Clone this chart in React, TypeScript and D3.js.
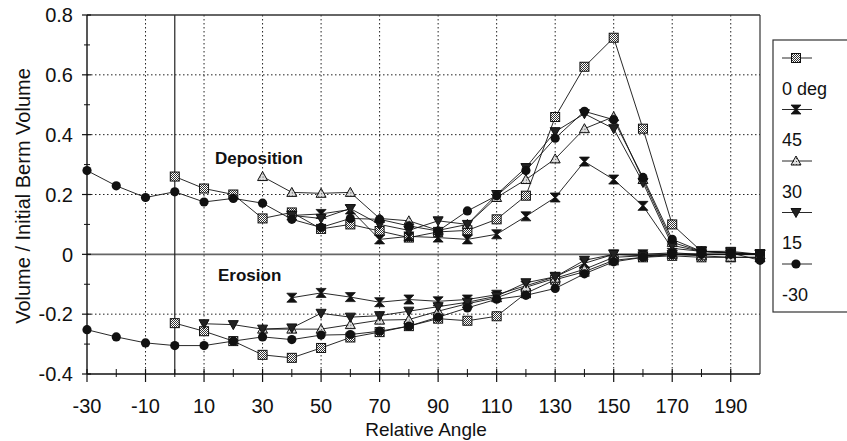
import React from "react";
import * as d3 from "d3";

// ---- data ----
const angles = [-30, -20, -10, 0, 10, 20, 30, 40, 50, 60, 70, 80, 90, 100, 110, 120, 130, 140, 150, 160, 170, 180, 190, 200];
const N = null;
const deg0Dep = [N, N, N, 0.26, 0.22, 0.2, 0.12, 0.14, 0.085, 0.1, 0.078, 0.056, 0.075, 0.08, 0.117, 0.196, 0.459, 0.627, 0.724, 0.42, 0.1, 0.01, 0.005, 0.0];
const deg0Ero = [N, N, N, -0.23, -0.257, -0.29, -0.336, -0.346, -0.313, -0.278, -0.26, -0.24, -0.215, -0.222, -0.207, -0.13, -0.085, -0.058, -0.02, -0.01, -0.005, -0.01, -0.01, -0.01];
const deg45Dep = [N, N, N, N, N, N, N, 0.13, 0.135, 0.15, 0.05, 0.06, 0.056, 0.05, 0.067, 0.127, 0.19, 0.31, 0.25, 0.162, 0.02, 0.01, 0.005, 0.0];
const deg45Ero = [N, N, N, N, N, N, N, -0.145, -0.129, -0.143, -0.16, -0.151, -0.157, -0.151, -0.135, -0.105, -0.075, -0.03, 0.0, 0.0, 0.005, 0.0, 0.0, 0.0];
const deg30Dep = [N, N, N, N, N, N, 0.26, 0.207, 0.204, 0.207, 0.12, 0.112, 0.08, 0.1, 0.19, 0.25, 0.319, 0.42, 0.46, 0.25, 0.04, 0.01, 0.005, 0.0];
const deg30Ero = [N, N, N, N, N, N, -0.25, -0.25, -0.25, -0.235, -0.22, -0.218, -0.19, -0.165, -0.145, -0.11, -0.08, -0.05, -0.01, -0.005, 0.0, -0.005, -0.01, -0.01];
const deg15Dep = [N, N, N, N, N, N, N, 0.13, 0.12, 0.153, 0.1, 0.08, 0.112, 0.1, 0.2, 0.29, 0.41, 0.47, 0.42, 0.24, 0.03, 0.01, 0.01, 0.0];
const deg15Ero = [N, N, N, N, -0.232, -0.235, -0.25, -0.246, -0.197, -0.21, -0.205, -0.19, -0.175, -0.16, -0.14, -0.095, -0.075, -0.02, 0.0, -0.005, 0.0, 0.0, 0.0, 0.0];
const degM30Dep = [0.28, 0.229, 0.19, 0.209, 0.175, 0.187, 0.171, 0.117, 0.09, 0.12, 0.117, 0.095, 0.078, 0.145, 0.196, 0.28, 0.388, 0.478, 0.45, 0.257, 0.05, 0.01, 0.005, -0.02];
const degM30Ero = [-0.252, -0.276, -0.296, -0.305, -0.305, -0.29, -0.276, -0.285, -0.27, -0.268, -0.257, -0.24, -0.21, -0.179, -0.15, -0.137, -0.114, -0.065, -0.025, -0.01, 0.0, 0.0, 0.0, 0.0];

const seriesNames = ["0 deg", "45", "30", "15", "-30"];
const seriesMarkers = ["square", "hourglass", "triangle", "invtriangle", "circle"];
const seriesDep = [deg0Dep, deg45Dep, deg30Dep, deg15Dep, degM30Dep];
const seriesEro = [deg0Ero, deg45Ero, deg30Ero, deg15Ero, degM30Ero];

const xTickLabels = [-30, -10, 10, 30, 50, 70, 90, 110, 130, 150, 170, 190];
const xMinorTicks = [-20, 0, 20, 40, 60, 80, 100, 120, 140, 160, 180];
const yTickLabels = [0.8, 0.6, 0.4, 0.2, 0, -0.2, -0.4];
const yMinorTicks = [0.7, 0.5, 0.3, 0.1, -0.1, -0.3];

const FONT = "'Liberation Sans', Arial, Helvetica, sans-serif";

function Marker({ kind, x, y }: { kind: string; x: number; y: number }) {
  const t = `translate(${x},${y})`;
  switch (kind) {
    case "square":
      return <rect x={x - 4.5} y={y - 4.5} width={9} height={9} fill="url(#hatch)" stroke="#111" strokeWidth={1} />;
    case "hourglass":
      return <path transform={t} d="M-5,-4.5 H5 L0.8,0 L5,4.5 H-5 L-0.8,0 Z" fill="#111" stroke="#111" strokeWidth={0.8} />;
    case "triangle":
      return <path transform={t} d="M0,-5 L5,4 H-5 Z" fill="url(#hatch2)" stroke="#111" strokeWidth={1} />;
    case "invtriangle":
      return <path transform={t} d="M0,5 L5,-4 H-5 Z" fill="#222" stroke="#111" strokeWidth={1} />;
    default:
      return <circle cx={x} cy={y} r={4.6} fill="#111" />;
  }
}

export default function App() {
  const x = d3.scaleLinear().domain([-30, 200]).range([87, 760]);
  const y = d3.scaleLinear().domain([-0.4, 0.8]).range([374, 15]);
  const fmt = (v: number) => (v === 0 ? "0" : (v < 0 ? "-" : "") + Math.abs(v).toFixed(1));

  const lineGen = (vals: (number | null)[]) =>
    d3
      .line<number>()
      .defined((i) => vals[i] != null)
      .x((i) => x(angles[i]))
      .y((i) => y(vals[i] as number))(d3.range(angles.length)) || "";

  const legendX = 773;
  const legendTop = 40;
  const legendStep = 51.5;

  return (
    <svg
      width={847}
      height={441}
      style={{ position: "absolute", left: 0, top: 0, background: "#fff" }}
      fontFamily={FONT}
    >
      <defs>
        <pattern id="hatch" width={2} height={2} patternUnits="userSpaceOnUse">
          <rect width={2} height={2} fill="#fff" />
          <rect width={1} height={1} fill="#333" />
          <rect x={1} y={1} width={1} height={1} fill="#333" />
        </pattern>
        <pattern id="hatch2" width={3} height={3} patternUnits="userSpaceOnUse">
          <rect width={3} height={3} fill="#ddd" />
          <rect width={1} height={1} fill="#444" />
        </pattern>
        <clipPath id="plotclip">
          <rect x={80} y={5} width={690} height={380} />
        </clipPath>
      </defs>
      <rect width={847} height={441} fill="#fff" />

      {/* grid */}
      {xTickLabels.slice(1).map((v) => (
        <line key={"gx" + v} x1={x(v)} x2={x(v)} y1={y(0.8)} y2={y(-0.4)} stroke="#222" strokeWidth={1} strokeDasharray="1.5,2.5" />
      ))}
      {yTickLabels.filter((v) => v !== 0 && v !== 0.8 && v !== -0.4).map((v) => (
        <line key={"gy" + v} x1={x(-30)} x2={x(200)} y1={y(v)} y2={y(v)} stroke="#222" strokeWidth={1} strokeDasharray="1.5,2.5" />
      ))}
      {/* zero lines */}
      <line x1={x(-30)} x2={x(200)} y1={y(0)} y2={y(0)} stroke="#666" strokeWidth={1.6} />
      <line x1={x(0)} x2={x(0)} y1={y(0.8)} y2={y(-0.4)} stroke="#222" strokeWidth={1.2} />
      {/* frame */}
      <line x1={x(-30)} x2={x(200)} y1={y(0.8)} y2={y(0.8)} stroke="#333" strokeWidth={1.4} />
      <line x1={x(200)} x2={x(200)} y1={y(0.8)} y2={y(-0.4)} stroke="#333" strokeWidth={1.2} />
      <line x1={x(-30)} x2={x(-30)} y1={y(0.8)} y2={y(-0.4)} stroke="#111" strokeWidth={1.4} />
      <line x1={x(-30)} x2={x(200)} y1={y(-0.4)} y2={y(-0.4)} stroke="#111" strokeWidth={1.4} />

      {/* x ticks */}
      {xTickLabels.map((v) => (
        <g key={"xt" + v}>
          <line x1={x(v)} x2={x(v)} y1={y(-0.4) - 5} y2={y(-0.4) + 8} stroke="#111" strokeWidth={1.2} />
          <text x={x(v)} y={413} textAnchor="middle" fontSize={20} fill="#111">
            {v}
          </text>
        </g>
      ))}
      {xMinorTicks.map((v) => (
        <line key={"xm" + v} x1={x(v)} x2={x(v)} y1={y(-0.4) - 5} y2={y(-0.4) + 3} stroke="#111" strokeWidth={1} />
      ))}
      {/* y ticks */}
      {yTickLabels.map((v) => (
        <g key={"yt" + v}>
          <line x1={x(-30) - 5} x2={x(-30) + 4} y1={y(v)} y2={y(v)} stroke="#111" strokeWidth={1.2} />
          <text x={73} y={y(v)} dy="0.36em" textAnchor="end" fontSize={20} fill="#111">
            {fmt(v)}
          </text>
        </g>
      ))}
      {yMinorTicks.map((v) => (
        <line key={"ym" + v} x1={x(-30) - 3} x2={x(-30) + 3} y1={y(v)} y2={y(v)} stroke="#111" strokeWidth={1} />
      ))}

      {/* axis titles */}
      <text x={426} y={436} textAnchor="middle" fontSize={19} fill="#111">
        Relative Angle
      </text>
      <text transform={`translate(30,196) rotate(-90)`} textAnchor="middle" fontSize={20} fill="#111">
        Volume / Initial Berm Volume
      </text>

      {/* annotations */}
      <text x={215} y={164} fontSize={17} fontWeight="bold" fill="#111">
        Deposition
      </text>
      <text x={218} y={281} fontSize={17} fontWeight="bold" fill="#111">
        Erosion
      </text>

      {/* series */}
      <g clipPath="url(#plotclip)">
        {seriesNames.map((name, s) => (
          <g key={name}>
            <path d={lineGen(seriesDep[s])} fill="none" stroke="#111" strokeWidth={0.9} />
            <path d={lineGen(seriesEro[s])} fill="none" stroke="#111" strokeWidth={0.9} />
          </g>
        ))}
        {seriesNames.map((name, s) => (
          <g key={name + "m"}>
            {[seriesDep[s], seriesEro[s]].map((vals, k) =>
              vals.map((v, i) =>
                v == null ? null : <Marker key={k + "-" + i} kind={seriesMarkers[s]} x={x(angles[i])} y={y(v)} />
              )
            )}
          </g>
        ))}
      </g>

      {/* legend */}
      <rect x={legendX} y={legendTop} width={100} height={272} fill="#fff" stroke="#333" strokeWidth={1.2} />
      {seriesNames.map((name, s) => {
        const my = 58 + s * legendStep;
        return (
          <g key={"lg" + name}>
            <line x1={782} x2={812} y1={my} y2={my} stroke="#111" strokeWidth={0.9} />
            <Marker kind={seriesMarkers[s]} x={796} y={my} />
            <text x={782} y={my + 36.5} fontSize={18} fill="#111">
              {name}
            </text>
          </g>
        );
      })}
    </svg>
  );
}
